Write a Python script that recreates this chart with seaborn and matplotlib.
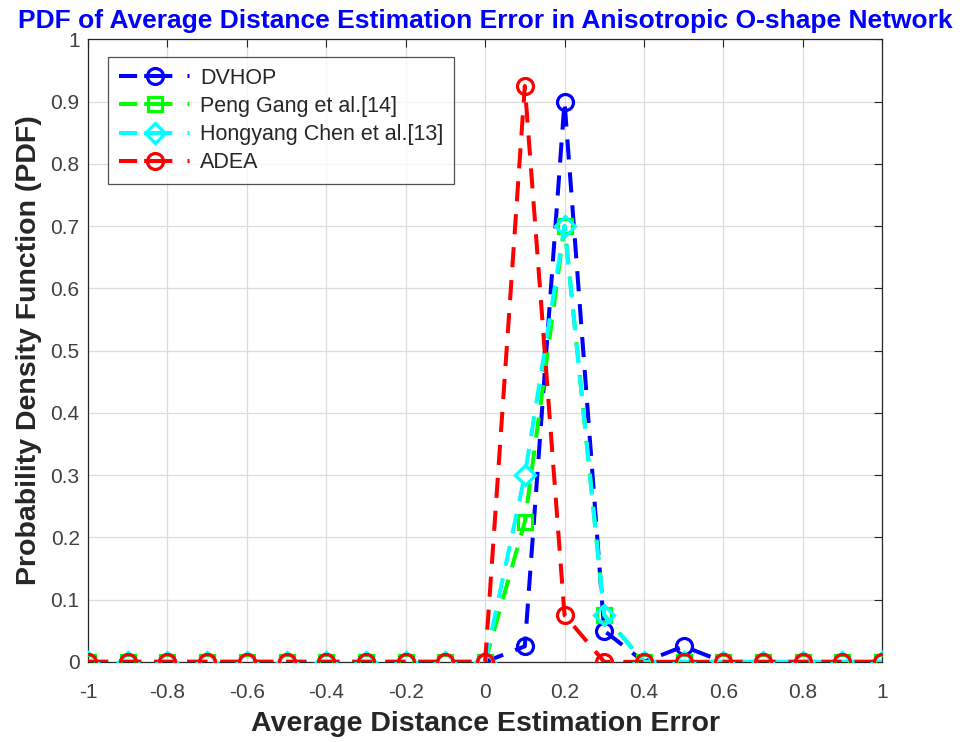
import numpy as np
import pandas as pd
import seaborn as sns
import matplotlib
matplotlib.use("Agg")
import matplotlib.pyplot as plt
from matplotlib.lines import Line2D

x_vals = [round(-1 + 0.1 * i, 1) for i in range(21)]
dvhop = [0]*11 + [0.025, 0.9, 0.05, 0, 0.025, 0, 0, 0, 0, 0]
peng = [0]*11 + [0.225, 0.7, 0.075, 0, 0, 0, 0, 0, 0, 0]
hongyang = [0]*11 + [0.3, 0.7, 0.075, 0, 0, 0, 0, 0, 0, 0]
adea = [0]*11 + [0.925, 0.075, 0, 0, 0, 0, 0, 0, 0, 0]

names = ["DVHOP", "Peng Gang et al.[14]", "Hongyang Chen et al.[13]", "ADEA"]
series = [dvhop, peng, hongyang, adea]
colors = ["#0000ff", "#00ff00", "#00ffff", "#ff0000"]
markers = ["o", "s", "D", "o"]
msizes = [11.5, 10, 10.5, 11.5]

df = pd.concat([pd.DataFrame({"x": x_vals, "y": s, "method": n}) for n, s in zip(names, series)])

sns.set_style("white")
plt.rcParams['font.family'] = ['Liberation Sans', 'DejaVu Sans']

fig = plt.figure(figsize=(9.65, 7.42), dpi=100)
ax = fig.add_axes([0.0912, 0.108, 0.823, 0.839])

lw = 2.9
for n, c, m, ms in zip(names, colors, markers, msizes):
    sub = df[df["method"] == n]
    sns.lineplot(data=sub, x="x", y="y", ax=ax, color=c, linestyle=(0, (5, 3.2)),
                 linewidth=lw, marker=m, markersize=ms, markerfacecolor="none",
                 markeredgecolor=c, markeredgewidth=2.3, zorder=3, legend=False)

ax.set_xlim(-1, 1)
ax.set_ylim(0, 1)
ax.set_xticks(np.round(np.arange(-1, 1.01, 0.2), 1))
ax.set_xticklabels(["-1", "-0.8", "-0.6", "-0.4", "-0.2", "0", "0.2", "0.4", "0.6", "0.8", "1"])
ax.set_yticks(np.round(np.arange(0, 1.01, 0.1), 1))
ax.set_yticklabels(["0", "0.1", "0.2", "0.3", "0.4", "0.5", "0.6", "0.7", "0.8", "0.9", "1"])
ax.grid(True, which="major", color="#dcdcdc", linewidth=0.9)
ax.set_axisbelow(True)
ax.tick_params(axis="both", which="major", direction="in", length=6, labelsize=15, colors="#262626",
               labelcolor="#404040")
ax.tick_params(axis="x", pad=15)
ax.tick_params(axis="y", pad=6)
ax.tick_params(top=True, right=True, which="major")
for sp in ax.spines.values():
    sp.set_color("#262626")
    sp.set_linewidth(0.9)
    sp.set_visible(True)

ax.set_xlabel("Average Distance Estimation Error", fontsize=20.5, fontweight="bold", color="#262626",
              labelpad=7)
ax.set_ylabel("Probability Density Function (PDF)", fontsize=20.5, fontweight="bold", color="#262626",
              labelpad=6)
ax.set_title("PDF of Average Distance Estimation Error in Anisotropic O-shape Network",
             fontsize=19, fontweight="bold", color="#0000ff", pad=8)

handles = [Line2D([0], [0], color=c, linewidth=lw, linestyle=(0, (4.5, 1.75, 7, 3.75, 0.5, 20)),
                  marker=m, markersize=ms, markerfacecolor="none", markeredgecolor=c,
                  markeredgewidth=2.3)
           for c, m, ms in zip(colors, markers, msizes)]
leg = ax.legend(handles, names, loc="upper left", bbox_to_anchor=(0.025, 0.972), fontsize=15.5,
                frameon=True, fancybox=False, edgecolor="#262626", handlelength=3.4,
                handletextpad=0.4, borderpad=0.5, labelspacing=0.34, borderaxespad=0)
leg.get_frame().set_linewidth(0.9)
for t in leg.get_texts():
    t.set_color("#262626")

fig.savefig("out.png", dpi=100)
